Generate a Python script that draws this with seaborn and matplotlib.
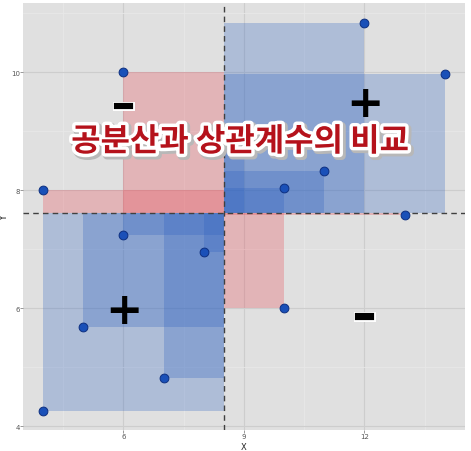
import numpy as np
import pandas as pd
import matplotlib
matplotlib.use("Agg")
import matplotlib.pyplot as plt
import matplotlib.patheffects as pe
import seaborn as sns

# Anscombe I plus three extra points
x_vals = [10, 8, 13, 9, 11, 14, 6, 4, 12, 7, 5, 4, 6, 10]
y_vals = [8.04, 6.95, 7.58, 8.81, 8.33, 9.96, 7.24, 4.26, 10.84, 4.82, 5.68, 8.0, 10.0, 6.0]
x_ticks = [6, 9, 12]
y_ticks = [4, 6, 8, 10]
title_text = "공분산과 상관계수의 비교"
sign_x = [6, 12, 6, 12]
sign_y = [9.42, 9.47, 5.96, 5.85]
sign_txt = ["−", "+", "+", "−"]

df = pd.DataFrame({"X": x_vals, "Y": y_vals})
mx, my = df["X"].mean(), df["Y"].mean()
df["pos"] = (df["X"] - mx) * (df["Y"] - my) > 0

sns.set_style("darkgrid", {"axes.facecolor": "#e0e0e0", "grid.color": "#cdcdcd"})

fig = plt.figure(figsize=(4.71, 4.52), dpi=100)
ax = fig.add_axes([0.049, 0.046, 0.938, 0.945])

blue = "#2a5fc0"
red = "#e8404c"
for _, r in df.iterrows():
    ax.bar(r["X"], my - r["Y"], width=mx - r["X"], bottom=r["Y"], align="edge",
           color=blue if r["pos"] else red, alpha=0.27, linewidth=0, zorder=2)

ax.axvline(mx, color="#404040", ls=(0, (4, 3)), lw=1, zorder=3)
ax.axhline(my, color="#404040", ls=(0, (4, 3)), lw=1, zorder=3)

sns.scatterplot(data=df, x="X", y="Y", ax=ax, color="#1a50b8", edgecolor="#0d2f80",
                s=40, linewidth=0.7, zorder=4)

ax.set_xlim(3.5, 14.5)
ax.set_ylim(3.93, 11.17)
ax.set_xticks(x_ticks)
ax.set_yticks(y_ticks)
ax.set_xticks([4.5, 7.5, 10.5, 13.5], minor=True)
ax.set_yticks([5, 7, 9, 11], minor=True)
ax.grid(which="major", color="#cdcdcd", lw=0.8, zorder=0)
ax.grid(which="minor", color="#e8e8e8", lw=0.6, zorder=0)
ax.set_axisbelow(True)
ax.tick_params(which="major", length=2, width=0.6, color="#888888", labelsize=5,
               labelcolor="#555555", pad=0.3)
ax.tick_params(which="minor", length=0)
ax.tick_params(axis="both", which="both", bottom=True, left=True)
ax.set_xlabel("X", fontsize=6)
ax.set_ylabel("Y", fontsize=7)
ax.xaxis.set_label_coords(0.5, -0.027)
ax.yaxis.set_label_coords(-0.031, 0.5)
for s in ax.spines.values():
    s.set_visible(False)

for sx, sy, t in zip(sign_x, sign_y, sign_txt):
    if t == "+":
        ax.text(sx, sy, t, fontsize=32, fontweight="bold", color="black",
                ha="center", va="center", family="DejaVu Sans", zorder=6)
    else:
        ax.text(sx, sy, t, fontsize=17, fontweight="bold", color="black",
                ha="center", va="center", family="DejaVu Sans", zorder=6,
                path_effects=[pe.Stroke(linewidth=5, foreground="white", joinstyle="miter"),
                              pe.Stroke(linewidth=3, foreground="black", joinstyle="miter"),
                              pe.Normal()])

ax.text(0.491, 0.675, title_text, transform=ax.transAxes, fontsize=23,
        fontweight="bold", color="#b5121b", ha="center", va="center",
        family=["Noto Sans CJK KR", "DejaVu Sans"], zorder=7,
        path_effects=[pe.Stroke(linewidth=6, foreground="#b8b8b8", offset=(1.5, -1.5)),
                      pe.Stroke(linewidth=5, foreground="white"), pe.Normal()])

fig.savefig("out.png", dpi=100)
